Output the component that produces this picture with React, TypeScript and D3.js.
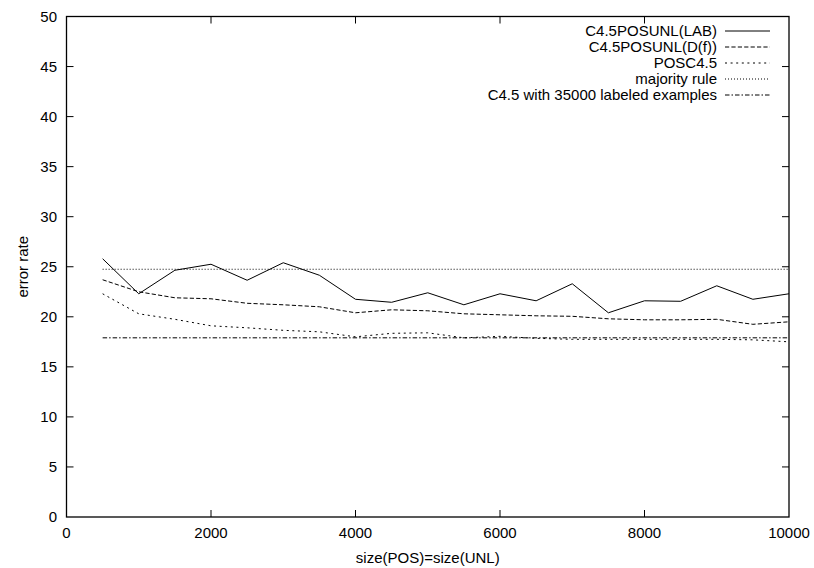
import React from 'react';
import * as d3 from 'd3';

// x values: size(POS)=size(UNL)
const sizes = [500, 1000, 1500, 2000, 2500, 3000, 3500, 4000, 4500, 5000,
  5500, 6000, 6500, 7000, 7500, 8000, 8500, 9000, 9500, 10000];

const lab = [25.8, 22.3, 24.65, 25.25, 23.65, 25.4, 24.15, 21.75, 21.45, 22.4,
  21.2, 22.3, 21.6, 23.3, 20.4, 21.6, 21.55, 23.1, 21.75, 22.3];
const df = [23.7, 22.5, 21.9, 21.8, 21.35, 21.2, 21.0, 20.4, 20.7, 20.6,
  20.3, 20.2, 20.1, 20.05, 19.8, 19.7, 19.7, 19.75, 19.25, 19.5];
const posc45 = [22.3, 20.3, 19.75, 19.1, 18.9, 18.65, 18.5, 18.0, 18.35, 18.4,
  17.9, 18.05, 17.85, 17.75, 17.75, 17.75, 17.75, 17.75, 17.7, 17.5];
const majority = 24.75;
const c45Labeled = 17.9;

const xTicks = [0, 2000, 4000, 6000, 8000, 10000];
const yTicks = [0, 5, 10, 15, 20, 25, 30, 35, 40, 45, 50];

const W = 814;
const H = 568;
const FONT = '"Liberation Sans", Arial, Helvetica, sans-serif';

const App = () => {
  const x = d3.scaleLinear().domain([0, 10000]).range([66.5, 789]);
  const y = d3.scaleLinear().domain([0, 50]).range([517, 16.5]);
  const [x0, x1] = x.range();
  const [y0, y1] = y.range();
  const tick = 7;

  const line = d3.line<[number, number]>()
    .x(d => x(d[0]))
    .y(d => y(d[1]));

  const series = [
    { name: 'C4.5POSUNL(LAB)', values: lab, dash: '' },
    { name: 'C4.5POSUNL(D(f))', values: df, dash: '4.2,2.2' },
    { name: 'POSC4.5', values: posc45, dash: '2,3.6' },
  ];
  const flat = [
    { name: 'majority rule', value: majority, dash: '1,2' },
    { name: 'C4.5 with 35000 labeled examples', value: c45Labeled, dash: '4.5,2,1.5,2' },
  ];
  const legend = [
    ...series.map(s => ({ name: s.name, dash: s.dash })),
    ...flat.map(s => ({ name: s.name, dash: s.dash })),
  ];

  return (
    <svg width={W} height={H} style={{ position: 'absolute', left: 0, top: 0, background: '#fff' }}
      fontFamily={FONT} fontSize={15}>
      {/* ticks, mirrored on all sides */}
      <g stroke="#000" strokeWidth={1}>
        {xTicks.slice(1, -1).map(t => (
          <g key={'xt' + t}>
            <line x1={x(t)} x2={x(t)} y1={y0} y2={y0 - tick} />
            <line x1={x(t)} x2={x(t)} y1={y1} y2={y1 + tick} />
          </g>
        ))}
        {yTicks.slice(1, -1).map(t => (
          <g key={'yt' + t}>
            <line x1={x0} x2={x0 + tick} y1={y(t)} y2={y(t)} />
            <line x1={x1} x2={x1 - tick} y1={y(t)} y2={y(t)} />
          </g>
        ))}
      </g>

      {/* tick labels */}
      {xTicks.map(t => (
        <text key={'xl' + t} x={x(t)} y={537.5} textAnchor="middle">{t}</text>
      ))}
      {yTicks.map(t => (
        <text key={'yl' + t} x={57} y={y(t)} dy="0.35em" textAnchor="end">{t}</text>
      ))}

      {/* axis titles */}
      <text x={(x0 + x1) / 2} y={562.5} textAnchor="middle">size(POS)=size(UNL)</text>
      <text transform={`translate(28,${(y0 + y1) / 2}) rotate(-90)`} textAnchor="middle">error rate</text>

      {/* data */}
      <g fill="none" stroke="#000" strokeWidth={1}>
        {series.map(s => (
          <path key={s.name} d={line(sizes.map((v, i) => [v, s.values[i]]) as [number, number][]) || ''}
            strokeDasharray={s.dash || undefined} />
        ))}
        {flat.map(s => (
          <line key={s.name} x1={x(sizes[0])} x2={x(sizes[sizes.length - 1])}
            y1={y(s.value)} y2={y(s.value)} strokeDasharray={s.dash} />
        ))}
      </g>

      {/* legend */}
      {legend.map((l, i) => {
        const ly = 31 + i * 16;
        return (
          <g key={'lg' + l.name}>
            <text x={717} y={ly} dy="0.35em" textAnchor="end">{l.name}</text>
            <line x1={725} x2={770} y1={ly} y2={ly} stroke="#000" strokeWidth={1}
              strokeDasharray={l.dash || undefined} />
          </g>
        );
      })}

      {/* frame */}
      <rect x={x0} y={y1} width={x1 - x0} height={y0 - y1} fill="none" stroke="#000" strokeWidth={1.3} />
    </svg>
  );
};

export default App;
